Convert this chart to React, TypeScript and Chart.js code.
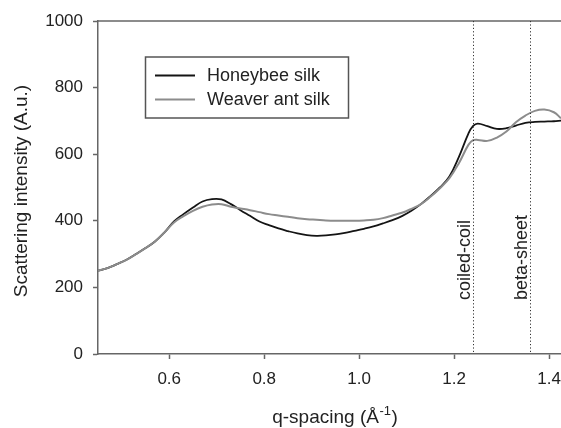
import React, { useEffect, useRef } from "react";
import { Chart, registerables } from "chart.js";

Chart.register(...registerables);

const qValues = [
  0.45, 0.47, 0.49, 0.51, 0.53, 0.55, 0.57, 0.59, 0.61, 0.63, 0.65, 0.67, 0.69, 0.71, 0.73,
  0.75, 0.77, 0.79, 0.81, 0.83, 0.85, 0.87, 0.89, 0.91, 0.93, 0.95, 0.97, 0.99, 1.01, 1.03,
  1.05, 1.07, 1.09, 1.11, 1.13, 1.15, 1.17, 1.19, 1.21, 1.23, 1.24, 1.25, 1.27, 1.29, 1.31,
  1.33, 1.35, 1.37, 1.39, 1.41, 1.425,
];

const honeybee = [
  250, 258, 270, 283, 300, 318, 338, 365, 398, 420, 440, 458, 465, 464, 450,
  432, 415, 398, 387, 377, 369, 362, 357, 355, 356, 359, 364, 370, 376, 383,
  392, 402, 414, 430, 450, 474, 500, 533, 592, 662, 685, 692, 684, 676, 678,
  686, 694, 697, 698, 699, 701,
];

const weaver = [
  250, 258, 270, 283, 300, 318, 338, 365, 395, 414, 430, 442, 449, 450, 442,
  437, 432, 426, 420, 416, 412, 408, 405, 403, 401, 400, 400, 400, 401, 403,
  408, 416, 424, 436, 450, 472, 498, 528, 573, 628, 642, 643, 640, 650, 668,
  696, 716, 730, 734, 726, 708,
];

const seriesLabels = ["Honeybee silk", "Weaver ant silk"];
const seriesColors = ["#141414", "#8c8c8c"];

const xTickValues = [0.6, 0.8, 1.0, 1.2, 1.4];
const yTickValues = [0, 200, 400, 600, 800, 1000];

const markerQ = [1.24, 1.36];
const markerLabels = ["coiled-coil", "beta-sheet"];

const xTitleMain = "q-spacing (Å";
const xTitleSup = "-1";
const xTitleEnd = ")";
const yTitle = "Scattering intensity (A.u.)";

const FONT = '"Liberation Sans", Arial, Helvetica, sans-serif';

export default function App() {
  const canvasRef = useRef<HTMLCanvasElement | null>(null);

  useEffect(() => {
    const canvas = canvasRef.current;
    if (!canvas) return;

    const overlay = {
      id: "overlay",
      afterDraw(chart: any) {
        const ctx = chart.ctx as CanvasRenderingContext2D;
        const area = chart.chartArea;
        const xs = chart.scales.x;
        ctx.save();

        // top frame line
        ctx.strokeStyle = "#666";
        ctx.lineWidth = 1.5;
        ctx.beginPath();
        ctx.moveTo(area.left, area.top);
        ctx.lineTo(chart.width, area.top);
        ctx.stroke();

        // dotted marker lines and labels
        markerQ.forEach((q, i) => {
          const x = Math.round(xs.getPixelForValue(q)) + 0.5;
          ctx.strokeStyle = "#333";
          ctx.lineWidth = 1;
          ctx.setLineDash([1.2, 2.2]);
          ctx.beginPath();
          ctx.moveTo(x, area.top);
          ctx.lineTo(x, area.bottom);
          ctx.stroke();
          ctx.setLineDash([]);

          ctx.save();
          ctx.translate(x - 3.5, 300);
          ctx.rotate(-Math.PI / 2);
          ctx.font = `18px ${FONT}`;
          ctx.fillStyle = "#222";
          ctx.textAlign = "left";
          ctx.textBaseline = "alphabetic";
          ctx.fillText(markerLabels[i], 0, 0);
          ctx.restore();
        });

        // legend
        ctx.strokeStyle = "#555";
        ctx.lineWidth = 1.5;
        ctx.strokeRect(145.5, 57, 203, 61);
        const rows = [75.5, 99.5];
        seriesLabels.forEach((lab, i) => {
          ctx.strokeStyle = seriesColors[i];
          ctx.lineWidth = 2;
          ctx.beginPath();
          ctx.moveTo(155, rows[i]);
          ctx.lineTo(195, rows[i]);
          ctx.stroke();
          ctx.font = `18px ${FONT}`;
          ctx.fillStyle = "#222";
          ctx.textAlign = "left";
          ctx.textBaseline = "middle";
          ctx.fillText(lab, 207, rows[i] + 1);
        });

        // x title with superscript
        ctx.fillStyle = "#222";
        ctx.textBaseline = "alphabetic";
        ctx.textAlign = "left";
        ctx.font = `19px ${FONT}`;
        const w1 = ctx.measureText(xTitleMain).width;
        const w3 = ctx.measureText(xTitleEnd).width;
        ctx.font = `13px ${FONT}`;
        const w2 = ctx.measureText(xTitleSup).width;
        const total = w1 + w2 + w3 + 1;
        let sx = 335 - total / 2;
        const base = 423;
        ctx.font = `19px ${FONT}`;
        ctx.fillText(xTitleMain, sx, base);
        sx += w1 + 0.5;
        ctx.font = `13px ${FONT}`;
        ctx.fillText(xTitleSup, sx, base - 8);
        sx += w2 + 0.5;
        ctx.font = `19px ${FONT}`;
        ctx.fillText(xTitleEnd, sx, base);

        // y title
        ctx.save();
        ctx.translate(22, 191);
        ctx.rotate(-Math.PI / 2);
        ctx.font = `19px ${FONT}`;
        ctx.textAlign = "center";
        ctx.textBaseline = "middle";
        ctx.fillText(yTitle, 0, 0);
        ctx.restore();

        ctx.restore();
      },
    };

    const chart = new Chart(canvas, {
      type: "line",
      data: {
        datasets: [
          {
            label: seriesLabels[0],
            data: qValues.map((q, i) => ({ x: q, y: honeybee[i] })),
            borderColor: seriesColors[0],
            borderWidth: 1.8,
            pointRadius: 0,
            tension: 0.4,
            fill: false,
            order: 1,
          },
          {
            label: seriesLabels[1],
            data: qValues.map((q, i) => ({ x: q, y: weaver[i] })),
            borderColor: seriesColors[1],
            borderWidth: 2,
            pointRadius: 0,
            tension: 0.4,
            fill: false,
            order: 0,
          },
        ],
      },
      options: {
        animation: false,
        responsive: true,
        maintainAspectRatio: false,
        devicePixelRatio: 1,
        layout: { padding: { top: 21, right: 0, bottom: 0, left: 0 } },
        plugins: {
          legend: { display: false },
          tooltip: { enabled: false },
        },
        scales: {
          x: {
            type: "linear",
            min: 0.45,
            max: 1.425,
            afterBuildTicks: (scale: any) => {
              scale.ticks = xTickValues.map((v) => ({ value: v }));
            },
            afterFit: (scale: any) => {
              scale.height = 74;
              scale.paddingLeft = 0;
              scale.paddingRight = 0;
            },
            border: { display: true, color: "#666", width: 1.5 },
            grid: {
              drawOnChartArea: false,
              drawTicks: true,
              tickLength: 5,
              tickColor: "#666",
              tickWidth: 1.5,
            },
            ticks: {
              color: "#222",
              font: { family: FONT, size: 17 },
              padding: 10,
              maxRotation: 0,
              callback: (v: any) => Number(v).toFixed(1),
            },
            title: { display: false },
          },
          y: {
            type: "linear",
            min: 0,
            max: 1000,
            afterBuildTicks: (scale: any) => {
              scale.ticks = yTickValues.map((v) => ({ value: v }));
            },
            afterFit: (scale: any) => {
              scale.width = 98;
            },
            border: { display: true, color: "#666", width: 1.5 },
            grid: {
              drawOnChartArea: false,
              drawTicks: true,
              tickLength: 5,
              tickColor: "#666",
              tickWidth: 1.5,
            },
            ticks: {
              color: "#222",
              font: { family: FONT, size: 17 },
              padding: 10,
              callback: (v: any) => String(v),
            },
            title: { display: false },
          },
        },
      },
      plugins: [overlay],
    });

    return () => chart.destroy();
  }, []);

  return (
    <div style={{ position: "absolute", left: 0, top: 0, width: 561, height: 428, background: "#fff" }}>
      <canvas ref={canvasRef} width={561} height={428} />
    </div>
  );
}
